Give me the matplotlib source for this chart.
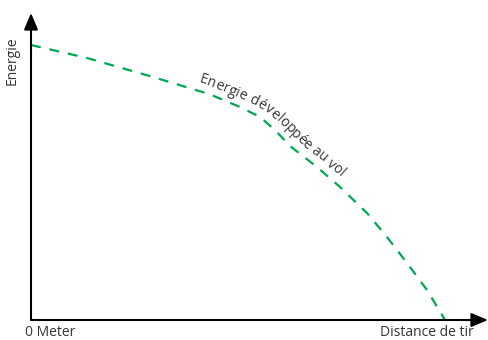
import numpy as np
import matplotlib
matplotlib.use("Agg")
import matplotlib.pyplot as plt
from matplotlib.font_manager import FontProperties

# data (arbitrary units: distance vs. energy)
distance = [0, 56, 122, 178, 209, 229, 244, 259, 286, 309, 336, 356, 376, 396, 414]
energy = [275, 262, 243, 226, 213, 203, 190, 174, 153, 133, 107, 83, 57, 30, 0]
x_label = "Distance de tir"
origin_label = "0 Meter"
y_label = "Energie"
curve_label = "Energie développée au vol"

W, H = 488, 340
fig = plt.figure(figsize=(W / 100, H / 100), dpi=100)
ox, oy = 31, 320
xmax, ymax = 457, 307
ax = fig.add_axes([ox / W, (H - oy) / H, xmax / W, ymax / H])
ax.set_xlim(0, xmax)
ax.set_ylim(0, ymax)
ax.axis("off")

green = "#00a651"
ax.plot(distance, energy, color=green, lw=1.6, dashes=(4.5, 4.0), clip_on=False)

# axes with arrows
arrow = dict(arrowstyle="-|>,head_length=1.0,head_width=0.42", color="black", lw=1.5,
             shrinkA=0, shrinkB=0)
ax.annotate("", xy=(xmax, 0), xytext=(0, 0), arrowprops=arrow, annotation_clip=False)
ax.annotate("", xy=(0, ymax), xytext=(0, 0), arrowprops=arrow, annotation_clip=False)

font = "Open Sans"
fs = 10.0
tc = "#333333"
fig.text(25 / W, (H - 336.5) / H, origin_label, fontsize=fs, family=font, color=tc,
         ha="left", va="baseline")
fig.text(474 / W, (H - 336.5) / H, x_label, fontsize=fs, family=font, color=tc,
         ha="right", va="baseline")
fig.text(20 / W, (H - 61) / H, y_label, fontsize=fs, family=font, color=tc,
         rotation=90, ha="right", va="center")

# curved label along the line
fp = FontProperties(family=font, size=fs)
renderer = fig.canvas.get_renderer()
def tw(s):
    if not s:
        return 0.0
    w, h, d = renderer.get_text_width_height_descent(s.replace(" ", "\u00a0"), fp, ismath=False)
    return w

dx = np.array(distance, float)
dy = np.array(energy, float)
seg = np.hypot(np.diff(dx), np.diff(dy))
arc = np.concatenate([[0], np.cumsum(seg)])

def point(s):
    return np.interp(s, arc, dx), np.interp(s, arc, dy)

def tangent(s, h=14):
    x1, y1 = point(s - h)
    x2, y2 = point(s + h)
    return np.arctan2(y2 - y1, x2 - x1)

s0 = np.interp(165, dx, arc)
offset = 8.0
for i, ch in enumerate(curve_label):
    if ch == " ":
        continue
    a0 = tw(curve_label[:i])
    a1 = tw(curve_label[:i + 1])
    s = s0 + (a0 + a1) / 2
    x, y = point(s)
    ang = tangent(s)
    nx, ny = -np.sin(ang), np.cos(ang)
    ax.text(x + nx * offset, y + ny * offset, ch, fontproperties=fp, color=tc,
            rotation=np.degrees(ang), rotation_mode="anchor", ha="center", va="baseline",
            clip_on=False)

fig.savefig("out.png", dpi=100)
